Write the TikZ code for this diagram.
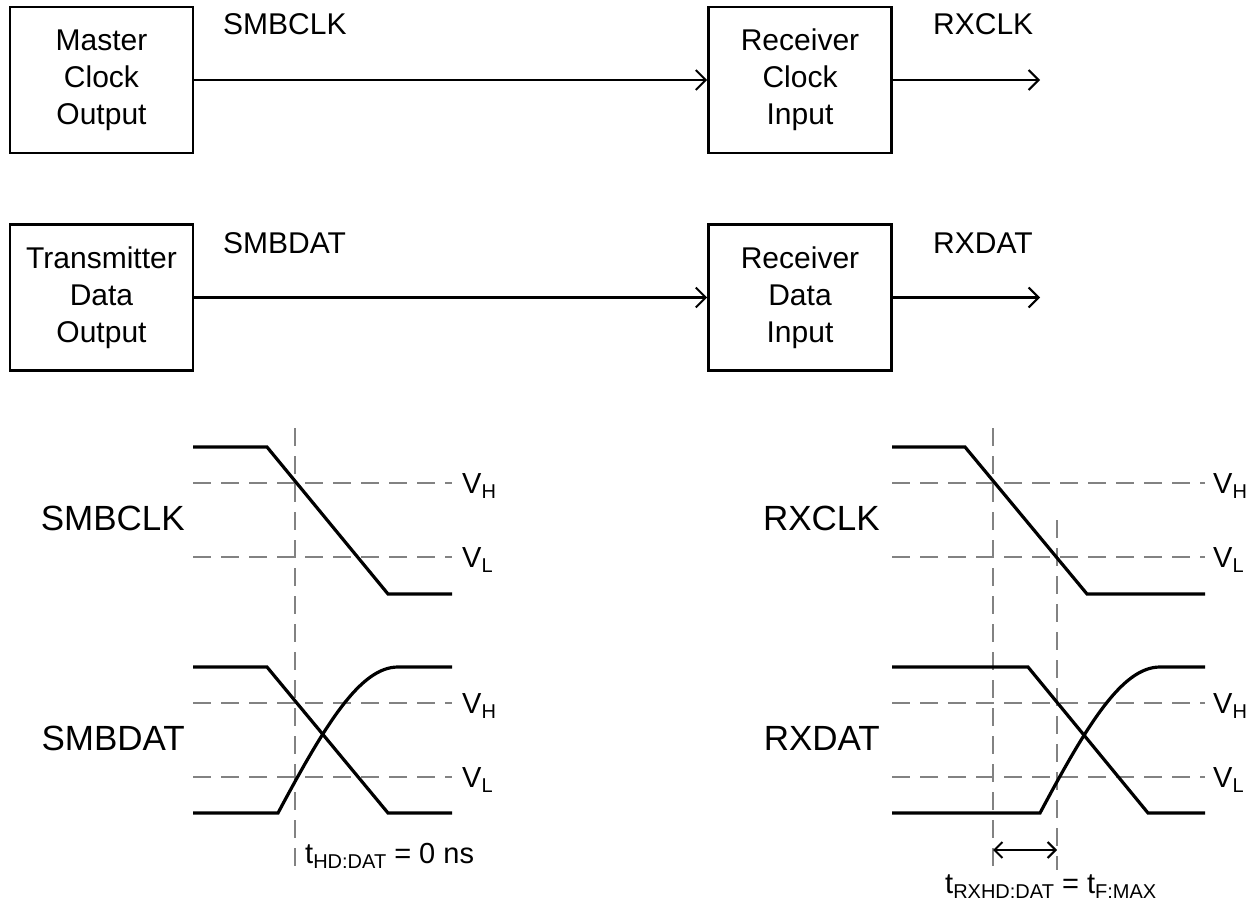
\documentclass[tikz,border=0pt]{standalone}
\usepackage{fontspec}
\setmainfont{Liberation Sans}
\usetikzlibrary{arrows.meta}
\definecolor{dgray}{RGB}{130,130,130}
\newcommand{\lsub}[1]{\raisebox{-5pt}{\fontsize{20}{20}\selectfont #1}}
\begin{document}
\begin{tikzpicture}[x=1pt,y=-1pt,
  box/.style={draw,line width=2.6pt,minimum width=183pt,minimum height=146pt,inner sep=0pt,align=center,font=\fontsize{30}{37}\selectfont},
  sig/.style={line width=2.5pt,-{Straight Barb[length=10pt,width=20pt,line width=2pt]}},
  wave/.style={line width=3.2pt},
  grid/.style={draw=dgray,line width=2pt,dash pattern=on 18pt off 10pt},
  lbl/.style={font=\fontsize{30}{34}\selectfont,inner sep=0pt,anchor=base west},
  big/.style={font=\fontsize{35}{40}\selectfont,inner sep=0pt,anchor=base east},
  vlab/.style={font=\fontsize{29}{34}\selectfont,inner sep=0pt,anchor=base west}]
\useasboundingbox (0,0) rectangle (1255,907);

% block diagram
\node[box] (mco) at (101.5,80) {Master\\Clock\\Output};
\node[box] (rci) at (800,80) {Receiver\\Clock\\Input};
\node[box] (tdo) at (101.5,297.5) {Transmitter\\Data\\Output};
\node[box] (rdi) at (800,297.5) {Receiver\\Data\\Input};
\coordinate (rxclkend) at (1040,80);
\coordinate (rxdatend) at (1040,297.5);
\draw[sig] (mco.east) -- (rci.west);
\draw[sig] (rci.east) -- (rxclkend);
\draw[sig] (tdo.east) -- (rdi.west);
\draw[sig] (rdi.east) -- (rxdatend);
\node[lbl] (lsmbclk) at (223,35) {SMBCLK};
\node[lbl] (lrxclk) at (933,35) {RXCLK};
\node[lbl] (lsmbdat) at (223,253) {SMBDAT};
\node[lbl] (lrxdat) at (933,253) {RXDAT};

% threshold lines
\draw[grid] (193,483) -- (452,483);
\draw[grid] (193,557) -- (452,557);
\draw[grid] (193,703) -- (452,703);
\draw[grid] (193,777) -- (452,777);
\draw[grid] (892,483) -- (1205,483);
\draw[grid] (892,557) -- (1205,557);
\draw[grid] (892,703) -- (1205,703);
\draw[grid] (892,777) -- (1205,777);
% vertical markers
\draw[grid] (295,428) -- (295,870);
\draw[grid] (993,428) -- (993,870);
\draw[grid] (1057,520) -- (1057,870);

% waveforms left
\draw[wave] (193,447) -- (267,447) -- (388,594) -- (452,594);
\draw[wave] (193,667) -- (267,667) -- (388,813) -- (452,813);
\draw[wave] (193,813) -- (278,813) .. controls (325,725) and (360,667) .. (398,667) -- (452,667);
% waveforms right
\draw[wave] (892,447) -- (965,447) -- (1087,594) -- (1205,594);
\draw[wave] (892,667) -- (1028,667) -- (1148,813) -- (1205,813);
\draw[wave] (892,813) -- (1040,813) .. controls (1087,725) and (1122,667) .. (1160,667) -- (1205,667);

% labels
\node[big] (bsmbclk) at (185,530) {SMBCLK};
\node[big] (bsmbdat) at (185,750) {SMBDAT};
\node[big] (brxclk) at (880,530) {RXCLK};
\node[big] (brxdat) at (880,750) {RXDAT};
\node[vlab] (vh1) at (462,493) {V\lsub{H}};
\node[vlab] (vl1) at (462,567) {V\lsub{L}};
\node[vlab] (vh2) at (462,713) {V\lsub{H}};
\node[vlab] (vl2) at (462,787) {V\lsub{L}};
\node[vlab] (vh3) at (1213,493) {V\lsub{H}};
\node[vlab] (vl3) at (1213,567) {V\lsub{L}};
\node[vlab] (vh4) at (1213,713) {V\lsub{H}};
\node[vlab] (vl4) at (1213,787) {V\lsub{L}};

% timing
\coordinate (ta) at (993,850);
\coordinate (tb) at (1057,850);
\draw[line width=2pt,{Straight Barb[length=8pt,width=16pt]}-{Straight Barb[length=8pt,width=16pt]}] (ta) -- (tb);
\node[vlab] (thd) at (305,863) {t\lsub{HD:DAT} = 0 ns};
\node[vlab] (trx) at (945,893) {t\lsub{RXHD:DAT} = t\lsub{F:MAX}};
\end{tikzpicture}
\end{document}
